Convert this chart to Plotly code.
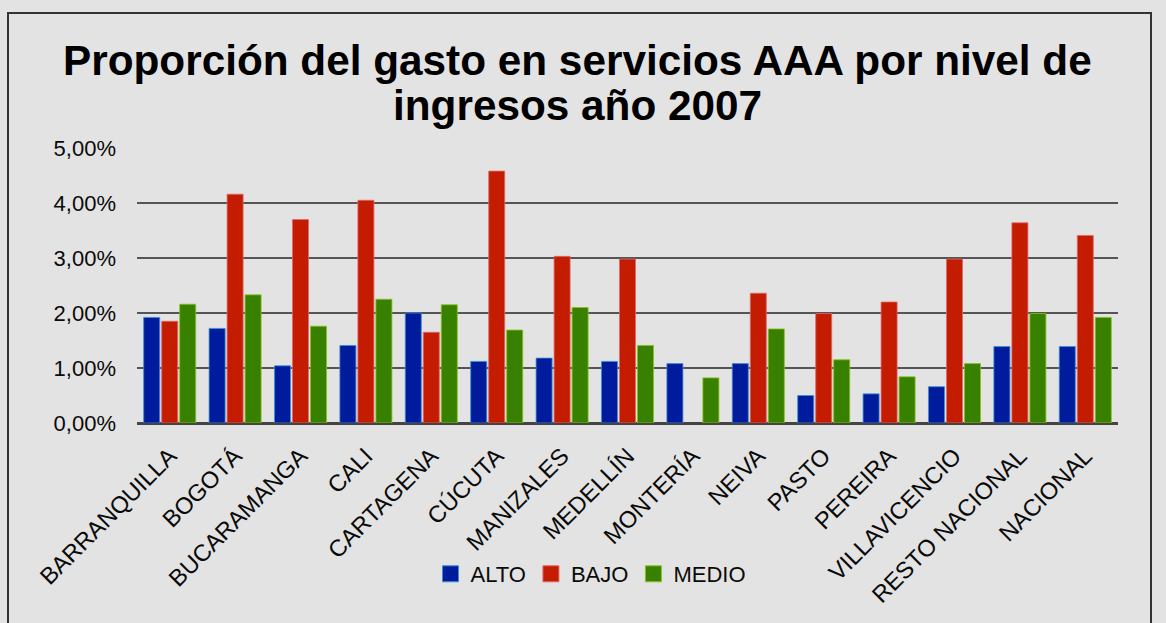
import plotly.graph_objects as go

# Gasto en servicios AAA (acueducto, alcantarillado, aseo) como % del ingreso, 2007
ciudades = [
    "BARRANQUILLA", "BOGOTÁ", "BUCARAMANGA", "CALI", "CARTAGENA", "CÚCUTA",
    "MANIZALES", "MEDELLÍN", "MONTERÍA", "NEIVA", "PASTO", "PEREIRA",
    "VILLAVICENCIO", "RESTO NACIONAL", "NACIONAL",
]
alto = [1.92, 1.72, 1.04, 1.41, 2.00, 1.12, 1.18, 1.12, 1.08, 1.08, 0.50, 0.53, 0.66, 1.39, 1.39]
bajo = [1.85, 4.16, 3.70, 4.05, 1.65, 4.58, 3.03, 2.98, None, 2.36, 1.99, 2.20, 2.98, 3.64, 3.41]
medio = [2.16, 2.33, 1.76, 2.25, 2.15, 1.69, 2.10, 1.41, 0.82, 1.71, 1.15, 0.84, 1.08, 1.99, 1.92]

y_ticks = [0, 1, 2, 3, 4, 5]
y_tick_labels = ["0,00%", "1,00%", "2,00%", "3,00%", "4,00%", "5,00%"]

W, H = 1166, 623
ML, MR, MT, MB = 137, 48, 148, 200
PW, PH = W - ML - MR, H - MT - MB


def px_x(x):
    return (x - ML) / PW


def px_y(y):
    return (H - MB - y) / PH


BG = "#e3e3e3"
FONT = "Liberation Sans, Arial, sans-serif"

fig = go.Figure()
series = [
    ("ALTO", alto, "#001c9c", "#3b8fd6"),
    ("BAJO", bajo, "#c41c00", "#e06a6a"),
    ("MEDIO", medio, "#388000", "#8cc21a"),
]
for name, vals, color, edge in series:
    fig.add_trace(go.Bar(
        name=name, x=ciudades, y=vals, showlegend=False,
        marker=dict(color=color, line=dict(color=edge, width=0.8)),
    ))
# legend keys drawn as larger squares
for name, vals, color, edge in series:
    fig.add_trace(go.Scatter(
        name=name, x=[None], y=[None], mode="markers",
        marker=dict(symbol="square", size=17, color=color,
                    line=dict(color=edge, width=1)),
    ))

fig.update_layout(
    width=W, height=H,
    margin=dict(l=ML, r=MR, t=MT, b=MB, pad=0),
    paper_bgcolor=BG, plot_bgcolor=BG,
    barmode="group", bargap=0.174, bargroupgap=0.11,
    font=dict(family=FONT, size=22, color="#0a0a0a"),
    showlegend=True,
    legend=dict(
        orientation="h", x=px_x(591), y=px_y(574),
        xanchor="center", yanchor="middle",
        bgcolor="rgba(0,0,0,0)", font=dict(size=22, color="#0a0a0a"),
        traceorder="normal", itemwidth=30,
    ),
    xaxis=dict(
        tickangle=-45, showgrid=False, showline=True,
        linecolor="#444444", linewidth=2, ticks="",
        tickfont=dict(size=23.5, color="#0a0a0a"),
        ticklabelstandoff=8,
    ),
    yaxis=dict(
        range=[0, 5], tickvals=y_ticks, ticktext=y_tick_labels,
        showgrid=True, gridcolor="#555555", gridwidth=2,
        zeroline=True, zerolinecolor="#444444", zerolinewidth=2,
        showline=False, ticks="",
        tickfont=dict(size=22, color="#0a0a0a"),
        ticklabelstandoff=20,
    ),
    annotations=[
        dict(text="<b>Proporción del gasto en servicios AAA por nivel de</b>",
             xref="paper", yref="paper", x=px_x(577), y=px_y(61),
             xanchor="center", yanchor="middle", showarrow=False,
             font=dict(family=FONT, size=42.3, color="#000000")),
        dict(text="<b>ingresos año 2007</b>",
             xref="paper", yref="paper", x=px_x(577), y=px_y(106),
             xanchor="center", yanchor="middle", showarrow=False,
             font=dict(family=FONT, size=42.3, color="#000000")),
    ],
    shapes=[
        dict(type="rect", xref="paper", yref="paper",
             x0=px_x(8), x1=px_x(1151), y0=px_y(640), y1=px_y(13),
             line=dict(color="#333333", width=2), fillcolor="rgba(0,0,0,0)",
             layer="below"),
    ],
)

fig.write_html("out.html")
